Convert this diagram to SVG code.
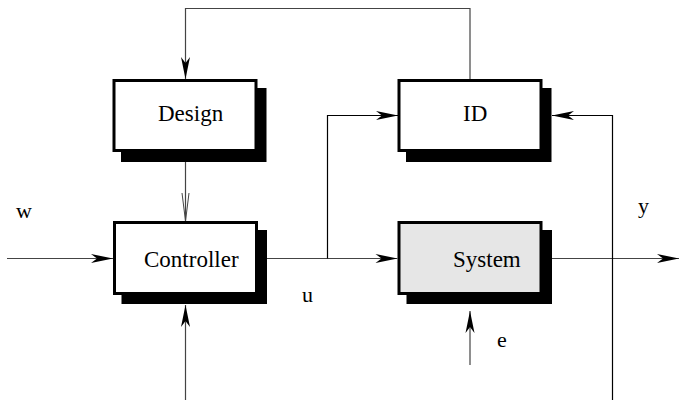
<svg xmlns="http://www.w3.org/2000/svg" width="680" height="400" viewBox="0 0 680 400">
  <style>
    .box { fill: #ffffff; stroke: #000000; stroke-width: 3; }
    .plant { fill: #e6e6e6; }
    .shadow { fill: #000000; }
    .lbl { font-family: "Liberation Serif", "Times New Roman", serif; font-size: 23px; fill: #000000; }
    .sig { font-family: "Liberation Serif", "Times New Roman", serif; font-size: 22px; fill: #000000; }
    .wire { fill: none; stroke: #444444; stroke-width: 1.2; }
    .wire.dark { stroke: #000000; }
  </style>
  <defs>
    <!-- barbed filled arrowhead, tip at the line end -->
    <marker id="barb" markerUnits="userSpaceOnUse" markerWidth="24" markerHeight="12" viewBox="-23 -6 24 12" refX="0" refY="0" orient="auto">
      <path d="M0,0 L-22,-4.5 L-16,0 L-22,4.5 Z" fill="#000000"/>
    </marker>
    <!-- open V arrowhead -->
    <marker id="vee" markerUnits="userSpaceOnUse" markerWidth="30" markerHeight="10" viewBox="-29 -5 30 10" refX="0" refY="0" orient="auto">
      <path d="M-28,-3.5 L0,0 L-28,3.5" fill="none" stroke="#444444" stroke-width="1"/>
    </marker>
  </defs>

  <!-- blocks -->
  <g id="design">
    <rect class="shadow" x="121" y="88" width="145.5" height="74"/>
    <rect class="box" x="114" y="80.5" width="142" height="70"/>
    <text class="lbl" x="158" y="121">Design</text>
  </g>
  <g id="id">
    <rect class="shadow" x="406" y="88" width="145.5" height="74"/>
    <rect class="box" x="399" y="80.5" width="142" height="70"/>
    <text class="lbl" x="463" y="121">ID</text>
  </g>
  <g id="controller">
    <rect class="shadow" x="121.5" y="230" width="145.5" height="74"/>
    <rect class="box" x="114.5" y="222.5" width="142" height="71"/>
    <text class="lbl" x="144" y="267">Controller</text>
  </g>
  <g id="system">
    <rect class="shadow" x="406.5" y="230" width="145.5" height="74"/>
    <rect class="box plant" x="399" y="222.5" width="142" height="71"/>
    <text class="lbl" x="453" y="267">System</text>
  </g>

  <!-- signal paths -->
  <g id="connectors">
    <path class="wire" d="M470,79 V8.5 H185.5 V79" marker-end="url(#barb)"/>
    <path class="wire" d="M185.5,162 V221" marker-end="url(#vee)"/>
    <path class="wire" d="M7,258.5 H113" marker-end="url(#barb)"/>
    <path class="wire" d="M267,258.5 H397.5" marker-end="url(#barb)"/>
    <path class="wire dark" d="M327.5,258.5 V115.5 H398" marker-end="url(#barb)"/>
    <path class="wire" d="M552,258.5 H679" marker-end="url(#barb)"/>
    <path class="wire dark" d="M612.5,400 V115.5 H552" marker-end="url(#barb)"/>
    <path class="wire" d="M470,365 V311" marker-end="url(#barb)"/>
    <path class="wire" d="M185.5,400 V305" marker-end="url(#barb)"/>
  </g>

  <!-- signal names -->
  <g id="signals">
    <text class="sig" x="16" y="218">w</text>
    <text class="sig" x="302" y="302">u</text>
    <text class="sig" x="638" y="213">y</text>
    <text class="sig" x="497" y="347">e</text>
  </g>
</svg>
